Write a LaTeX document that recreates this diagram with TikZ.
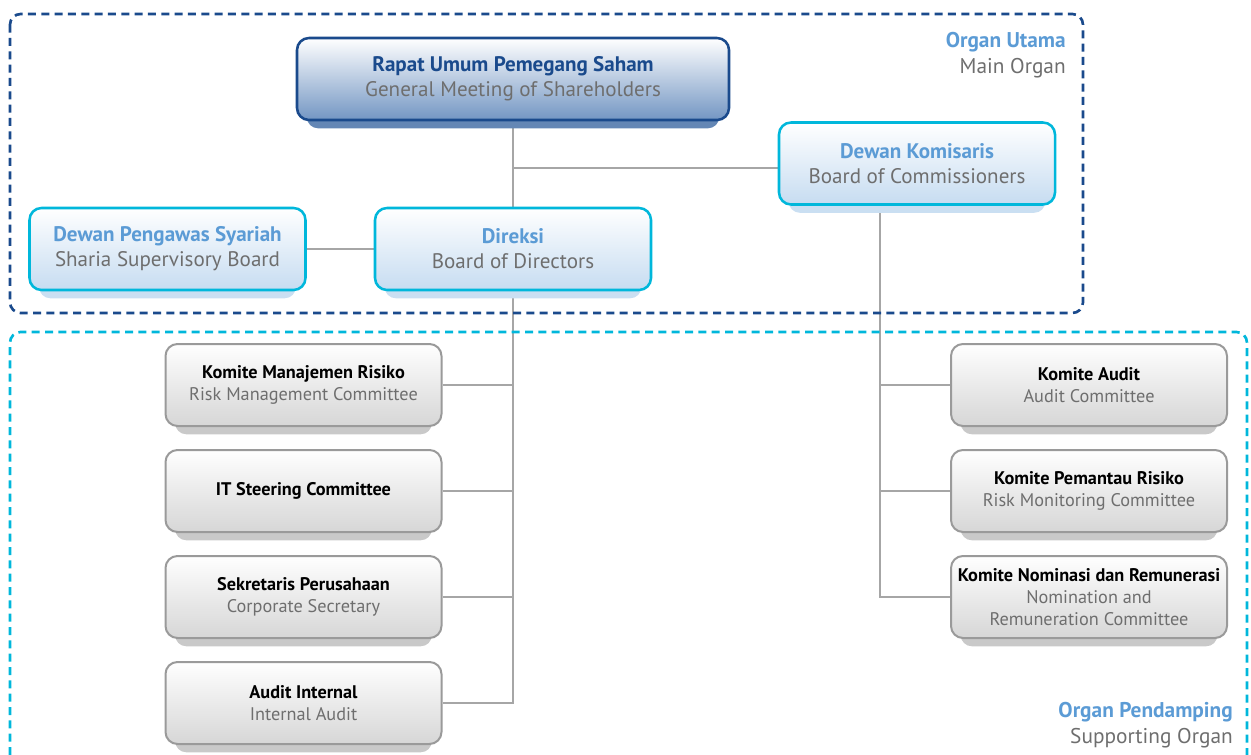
\documentclass[tikz,border=0pt]{standalone}
\usepackage{fontspec}
\setmainfont{PT Sans}
\usepackage{xcolor}
\usepackage{tikz}
\usetikzlibrary{positioning, shadows, backgrounds}

\definecolor{rupsblue}{HTML}{1A4A8C}
\definecolor{rupsfill}{HTML}{7396C3}
\definecolor{rupsshade}{HTML}{6487B5}
\definecolor{organcyan}{HTML}{00B7DB}
\definecolor{headblue}{HTML}{5B9BD5}
\definecolor{boardfill}{HTML}{C6DCF1}
\definecolor{boardshade}{HTML}{CADFF2}
\definecolor{subgray}{HTML}{6E6E6E}
\definecolor{linegray}{HTML}{A6A6A6}
\definecolor{cmtborder}{HTML}{9A9A9A}
\definecolor{cmtfill}{HTML}{D6D6D6}
\definecolor{cmtshade}{HTML}{C9C9C9}

\begin{document}
\begin{tikzpicture}[
        x=0.75pt, y=-0.75pt,
        node distance=16.5pt,
        rups/.style={rectangle, rounded corners=9pt, minimum width=324pt, minimum height=61.5pt, draw=rupsblue, line width=1.9pt, top color=white, bottom color=rupsfill, align=center, font=\fontsize{15.8}{18.75}\selectfont, general shadow={fill=rupsshade, shadow scale=0.955, shadow yshift=-8pt}},
        board/.style={rectangle, rounded corners=9pt, minimum width=207pt, minimum height=61.5pt, draw=organcyan, line width=1.9pt, top color=white, bottom color=boardfill, align=center, font=\fontsize{15.8}{18.75}\selectfont, general shadow={fill=boardshade, shadow scale=0.93, shadow yshift=-9pt}},
        committee/.style={rectangle, rounded corners=9pt, minimum width=207pt, minimum height=61.5pt, draw=cmtborder, line width=1.5pt, top color=white, bottom color=cmtfill, align=center, font=\fontsize{13.7}{16.5}\selectfont, general shadow={fill=cmtshade, shadow scale=0.93, shadow yshift=-9pt}},
        organ/.style={dashed, dash pattern=on 6pt off 4pt, line width=2pt, rounded corners=8pt},
        organlabel/.style={anchor=north east, align=right, inner sep=0pt, font=\fontsize{16}{19.5}\selectfont},
        link/.style={draw=linegray, line width=0.9pt}
    ]
        \useasboundingbox (0,0) rectangle (1251,755);

        % Organ frames
        \draw [organ, draw=rupsblue] (10,14) rectangle (1083,313);
        \draw [organ, draw=organcyan] (10,755) |- (1247,332) -- (1247,755);

        \node [organlabel] (utama) at (1066,32) {\textcolor{headblue}{\bfseries Organ Utama}\\\textcolor{subgray}{Main Organ}};
        \node [organlabel] (pendamping) at (1233,702) {\textcolor{headblue}{\bfseries Organ Pendamping}\\\textcolor{subgray}{Supporting Organ}};

        % Main organ
        \node (gms) [rups] at (513,79) {\textcolor{rupsblue}{\bfseries Rapat Umum Pemegang Saham}\\\textcolor{subgray}{General Meeting of Shareholders}};
        \node (boc) [board] at (917,163.5) {\textcolor{headblue}{\bfseries Dewan Komisaris}\\\textcolor{subgray}{Board of Commissioners}};
        \node (bod) [board] at (513,249) {\textcolor{headblue}{\bfseries Direksi}\\\textcolor{subgray}{Board of Directors}};
        \node (ssb) [board] at (167.5,249) {\textcolor{headblue}{\bfseries Dewan Pengawas Syariah}\\\textcolor{subgray}{Sharia Supervisory Board}};

        % Committees under the directors
        \node (rmc) [committee] at (303.5,385) {\textbf{Komite Manajemen Risiko}\\\textcolor{subgray}{Risk Management Committee}};
        \node (itsc) [committee, below=of rmc] {\textbf{IT Steering Committee}};
        \node (corsec) [committee, below=of itsc] {\textbf{Sekretaris Perusahaan}\\\textcolor{subgray}{Corporate Secretary}};
        \node (intaudit) [committee, below=of corsec] {\textbf{Audit Internal}\\\textcolor{subgray}{Internal Audit}};

        % Committees under the commissioners
        \node (audit) [committee] at (1089,385) {\textbf{Komite Audit}\\\textcolor{subgray}{Audit Committee}};
        \node (rmoc) [committee, below=of audit] {\textbf{Komite Pemantau Risiko}\\\textcolor{subgray}{Risk Monitoring Committee}};
        \node (nrc) [committee, below=of rmoc] {\textbf{Komite Nominasi dan Remunerasi}\\\textcolor{subgray}{Nomination and}\\\textcolor{subgray}{Remuneration Committee}};

        % Links
        \begin{scope}[on background layer]
        \draw [link] (gms) -- (bod);
        \draw [link] ([yshift=-3.4pt]boc.west) -- ([yshift=-3.4pt]boc.west -| gms.south);
        \draw [link] (ssb.east) -- (bod.west);

        \draw [link] (bod.south) |- (intaudit.east);
        \draw [link] (rmc.east) -- (rmc.east -| bod.south);
        \draw [link] (itsc.east) -- (itsc.east -| bod.south);
        \draw [link] (corsec.east) -- (corsec.east -| bod.south);

        \draw [link] (boc.south -| 880,0) |- (nrc.west);
        \draw [link] (audit.west) -- (audit.west -| 880,0);
        \draw [link] (rmoc.west) -- (rmoc.west -| 880,0);
        \end{scope}
    \end{tikzpicture}
\end{document}
